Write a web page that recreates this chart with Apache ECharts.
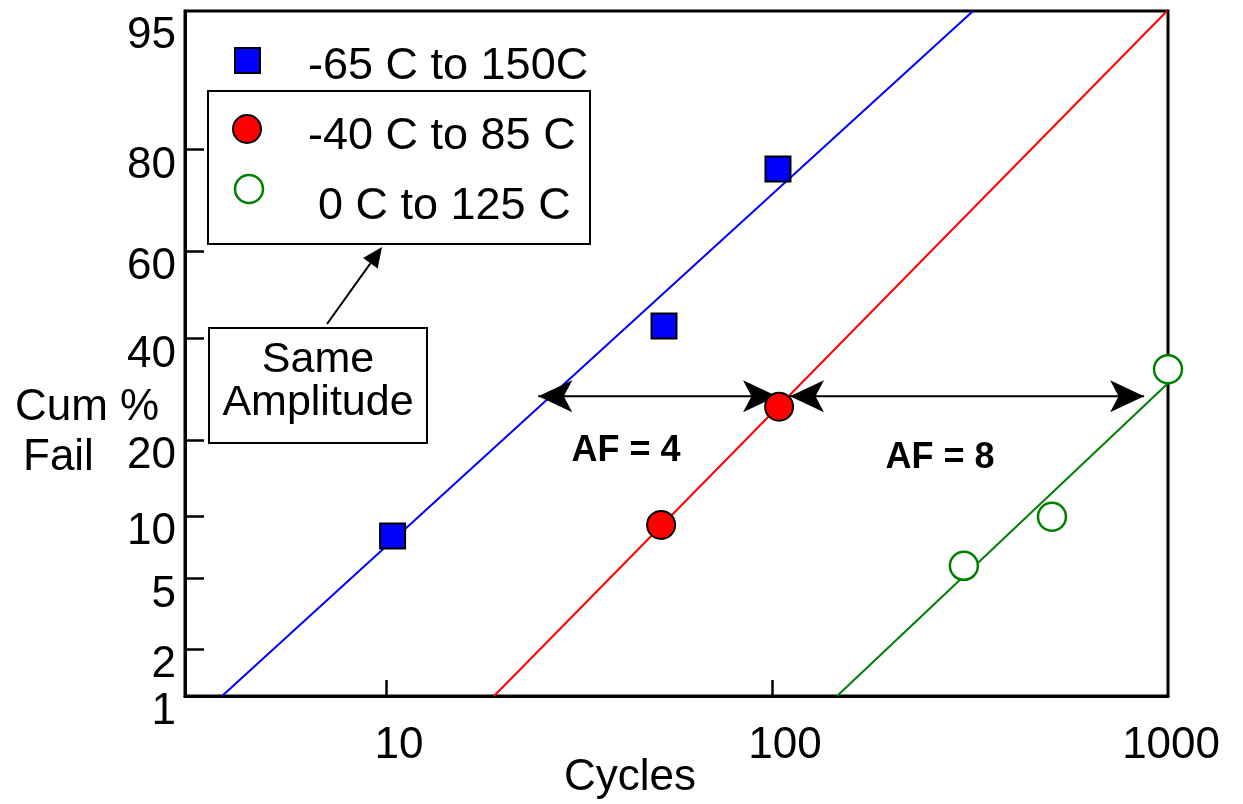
<!DOCTYPE html>
<html>
<head>
<meta charset="utf-8">
<script src="https://cdn.jsdelivr.net/npm/echarts@6/dist/echarts.min.js"></script>
<style>
  html, body { margin: 0; padding: 0; background: #fff; }
  #chart { width: 1243px; height: 804px; }
</style>
</head>
<body>
<div id="chart"></div>
<script>
// ---------- data (cycles, cumulative % failed) ----------
const yTickPct = [1, 2, 5, 10, 20, 40, 60, 80];
const yLabelPct = [1, 2, 5, 10, 20, 40, 60, 80, 95];
const xTickCycles = [10, 100];
const xLabelCycles = [10, 100, 1000];

const blueCycles = [10.4, 52.5, 103.6];
const bluePct = [8.1, 42.8, 76.7];
const redCycles = [51.6, 104.3];
const redPct = [9.1, 25.8];
const greenCycles = [314, 531, 1061];
const greenPct = [5.8, 9.9, 33.3];

// fitted lines (end points)
const blueFitCycles = [3.76, 331.7];
const blueFitPct = [1, 95];
const redFitCycles = [19.05, 1055];
const redFitPct = [1, 95];
const greenFitCycles = [147.4, 1061];
const greenFitPct = [1, 30.4];

// acceleration-factor arrows: [from cycles, to cycles, % level]
const arrowAF4 = [24.8, 103, 27.8];
const arrowAF8 = [111.3, 920, 27.8];

const xMinCycles = 3.015, xMaxCycles = 1061;
const yMinPct = 1, yMaxPct = 95;

// ---------- probability (normal) scale ----------
function probit(p) {
  const a = [-3.969683028665376e+01, 2.209460984245205e+02, -2.759285104469687e+02, 1.383577518672690e+02, -3.066479806614716e+01, 2.506628277459239e+00];
  const b = [-5.447609879822406e+01, 1.615858368580409e+02, -1.556989798598866e+02, 6.680131188771972e+01, -1.328068155288572e+01];
  const c = [-7.784894002430293e-03, -3.223964580411365e-01, -2.400758277161838e+00, -2.549732539343734e+00, 4.374664141464968e+00, 2.938163982698783e+00];
  const d = [7.784695709041462e-03, 3.224671290700398e-01, 2.445134137142996e+00, 3.754408661907416e+00];
  const pl = 0.02425;
  let q, r;
  if (p < pl) {
    q = Math.sqrt(-2 * Math.log(p));
    return (((((c[0]*q+c[1])*q+c[2])*q+c[3])*q+c[4])*q+c[5]) / ((((d[0]*q+d[1])*q+d[2])*q+d[3])*q+1);
  }
  if (p <= 1 - pl) {
    q = p - 0.5; r = q * q;
    return (((((a[0]*r+a[1])*r+a[2])*r+a[3])*r+a[4])*r+a[5])*q / (((((b[0]*r+b[1])*r+b[2])*r+b[3])*r+b[4])*r+1);
  }
  q = Math.sqrt(-2 * Math.log(1 - p));
  return -(((((c[0]*q+c[1])*q+c[2])*q+c[3])*q+c[4])*q+c[5]) / ((((d[0]*q+d[1])*q+d[2])*q+d[3])*q+1);
}
const Y = pct => probit(pct / 100);
const X = cyc => Math.log10(cyc);
const pts = (cs, ps) => cs.map((c, i) => [X(c), Y(ps[i])]);

const FONT = "'Liberation Sans', Arial, Helvetica, sans-serif";

const chart = echarts.init(document.getElementById('chart'), null, { renderer: 'canvas' });

function arrowSeries(arr) {
  return {
    type: 'line', silent: true, animation: false, z: 4,
    showSymbol: true, showAllSymbol: true,
    lineStyle: { color: '#000', width: 2 },
    itemStyle: { color: '#000', opacity: 1 },
    emphasis: { disabled: true },
    data: [
      { value: [X(arr[0]), Y(arr[2])], symbol: 'arrow', symbolSize: [24, 34], symbolRotate: 90 },
      { value: [X(arr[1]), Y(arr[2])], symbol: 'arrow', symbolSize: [24, 34], symbolRotate: -90 }
    ]
  };
}

const option = {
  backgroundColor: '#fff',
  animation: false,
  grid: {
    left: 185, right: 75, top: 11, bottom: 108,
    show: true, borderColor: '#000', borderWidth: 3, backgroundColor: 'transparent'
  },
  xAxis: {
    type: 'value',
    min: X(xMinCycles), max: X(xMaxCycles),
    splitLine: { show: false },
    axisLine: { show: true, onZero: false, lineStyle: { color: '#000', width: 3 } },
    axisTick: { show: true, inside: true, length: 16, lineStyle: { color: '#000', width: 2.5 },
      customValues: xTickCycles.map(X) },
    axisLabel: {
      customValues: xLabelCycles.map(X),
      formatter: v => String(Math.round(Math.pow(10, v))),
      color: '#000', fontSize: 44, fontFamily: FONT, lineHeight: 44,
      margin: 28, padding: [0, 0, 0, 26]
    }
  },
  yAxis: {
    type: 'value',
    min: Y(yMinPct), max: Y(yMaxPct),
    splitLine: { show: false },
    axisLine: { show: true, onZero: false, lineStyle: { color: '#000', width: 3 } },
    axisTick: { show: true, inside: true, length: 19, lineStyle: { color: '#000', width: 2.5 },
      customValues: yTickPct.map(Y) },
    axisLabel: {
      customValues: yLabelPct.map(Y),
      formatter: v => {
        let best = yLabelPct[0];
        yLabelPct.forEach(p => { if (Math.abs(Y(p) - v) < Math.abs(Y(best) - v)) best = p; });
        return best === 95 ? '{t|95}' : '{n|' + best + '}';
      },
      rich: {
        n: { fontSize: 44, fontFamily: FONT, color: '#000', lineHeight: 32 },
        t: { fontSize: 44, fontFamily: FONT, color: '#000', lineHeight: 50 }
      },
      verticalAlign: 'top', align: 'right',
      color: '#000', fontSize: 44, fontFamily: FONT, margin: 9
    }
  },
  series: [
    { type: 'line', silent: true, showSymbol: false, z: 2, clip: true,
      lineStyle: { color: '#0000ff', width: 2 }, data: pts(blueFitCycles, blueFitPct) },
    { type: 'line', silent: true, showSymbol: false, z: 2, clip: true,
      lineStyle: { color: '#ff0000', width: 2 }, data: pts(redFitCycles, redFitPct) },
    { type: 'line', silent: true, showSymbol: false, z: 2, clip: true,
      lineStyle: { color: '#008000', width: 2 }, data: pts(greenFitCycles, greenFitPct) },
    arrowSeries(arrowAF4),
    arrowSeries(arrowAF8),
    { name: '-65 C to 150C', type: 'scatter', z: 6, clip: false, silent: true,
      symbol: 'rect', symbolSize: 25,
      itemStyle: { color: '#0000ff', borderColor: '#000', borderWidth: 2, opacity: 1 },
      data: pts(blueCycles, bluePct) },
    { name: '-40 C to 85 C', type: 'scatter', z: 6, clip: false, silent: true,
      symbol: 'circle', symbolSize: 28,
      itemStyle: { color: '#ff0000', borderColor: '#000', borderWidth: 2, opacity: 1 },
      data: pts(redCycles, redPct) },
    { name: '0 C to 125 C', type: 'scatter', z: 6, clip: false, silent: true,
      symbol: 'circle', symbolSize: 28,
      itemStyle: { color: '#ffffff', borderColor: '#008000', borderWidth: 2.5, opacity: 1 },
      data: pts(greenCycles, greenPct) }
  ],
  graphic: [
    // legend
    { type: 'rect', shape: { x: 235, y: 48, width: 25, height: 25 },
      style: { fill: '#0000ff', stroke: '#000', lineWidth: 2 }, z: 100 },
    { type: 'text', style: { text: '-65 C to 150C', x: 308, y: 67, fontSize: 45, fontFamily: FONT,
      fill: '#000', align: 'left', verticalAlign: 'middle' }, z: 100 },
    { type: 'rect', shape: { x: 208, y: 91, width: 382, height: 153 },
      style: { fill: 'rgba(0,0,0,0)', stroke: '#000', lineWidth: 2 }, z: 100 },
    { type: 'circle', shape: { cx: 247, cy: 129, r: 14 },
      style: { fill: '#ff0000', stroke: '#000', lineWidth: 2 }, z: 100 },
    { type: 'text', style: { text: '-40 C to 85 C', x: 308, y: 137, fontSize: 45, fontFamily: FONT,
      fill: '#000', align: 'left', verticalAlign: 'middle' }, z: 100 },
    { type: 'circle', shape: { cx: 249, cy: 189, r: 14 },
      style: { fill: '#fff', stroke: '#008000', lineWidth: 2.5 }, z: 100 },
    { type: 'text', style: { text: '0 C to 125 C', x: 318, y: 207, fontSize: 45, fontFamily: FONT,
      fill: '#000', align: 'left', verticalAlign: 'middle' }, z: 100 },
    // "Same Amplitude" callout
    { type: 'rect', shape: { x: 209, y: 328, width: 218, height: 115 },
      style: { fill: '#fff', stroke: '#000', lineWidth: 2 }, z: 100 },
    { type: 'text', style: { text: 'Same', x: 318, y: 360, fontSize: 43, fontFamily: FONT,
      fill: '#000', align: 'center', verticalAlign: 'middle' }, z: 100 },
    { type: 'text', style: { text: 'Amplitude', x: 318, y: 403, fontSize: 43, fontFamily: FONT,
      fill: '#000', align: 'center', verticalAlign: 'middle' }, z: 100 },
    { type: 'line', shape: { x1: 327, y1: 324, x2: 370.4, y2: 263.3 },
      style: { stroke: '#000', lineWidth: 2 }, z: 100 },
    { type: 'polygon', shape: { points: [[382, 247], [377.7, 268.5], [363.1, 258.1]] },
      style: { fill: '#000' }, z: 100 },
    // AF labels
    { type: 'text', style: { text: 'AF = 4', x: 626, y: 451, fontSize: 36, fontWeight: 'bold', fontFamily: FONT,
      fill: '#000', align: 'center', verticalAlign: 'middle' }, z: 100 },
    { type: 'text', style: { text: 'AF = 8', x: 940, y: 458, fontSize: 36, fontWeight: 'bold', fontFamily: FONT,
      fill: '#000', align: 'center', verticalAlign: 'middle' }, z: 100 },
    // axis titles
    { type: 'text', style: { text: 'Cum %', x: 15, y: 408, fontSize: 44, fontFamily: FONT,
      fill: '#000', align: 'left', verticalAlign: 'middle' }, z: 100 },
    { type: 'text', style: { text: 'Fail', x: 23, y: 458, fontSize: 44, fontFamily: FONT,
      fill: '#000', align: 'left', verticalAlign: 'middle' }, z: 100 },
    { type: 'text', style: { text: 'Cycles', x: 630, y: 778, fontSize: 44, fontFamily: FONT,
      fill: '#000', align: 'center', verticalAlign: 'middle' }, z: 100 }
  ]
};
chart.setOption(option);
</script>
</body>
</html>
